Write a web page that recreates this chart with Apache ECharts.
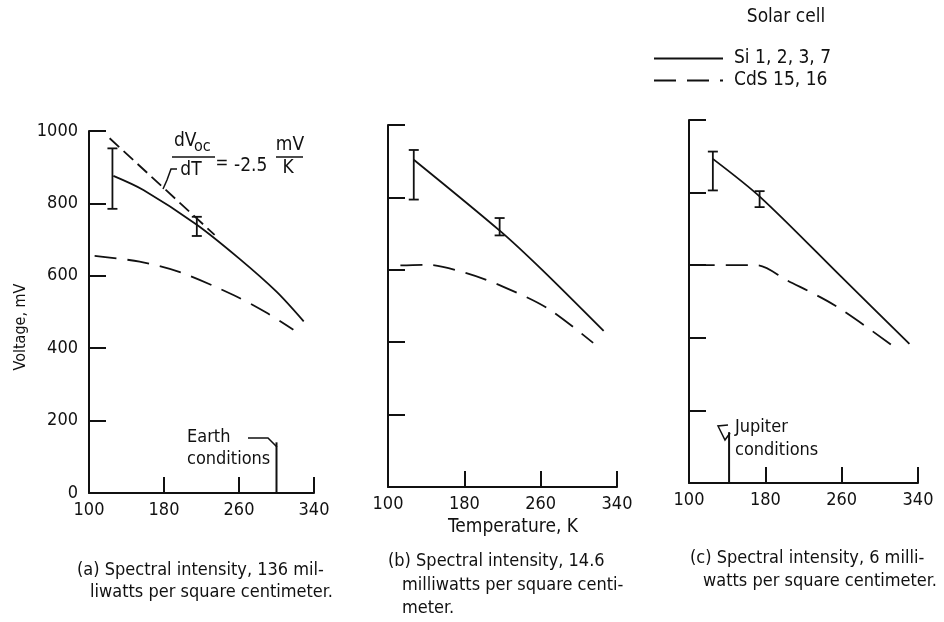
<!DOCTYPE html>
<html>
<head>
<meta charset="utf-8">
<script src="https://cdn.jsdelivr.net/npm/echarts@6/dist/echarts.min.js"></script>
<style>
  html, body { margin: 0; background: #fff; }
  #main { width: 944px; height: 622px; }
</style>
</head>
<body>
<div id="main"></div>
<script>
// values, [temperature K, voltage mV]
// (a) 136 mW/cm2
const siA = [[126, 876], [158, 837], [215, 741], [260, 648], [300, 556], [329, 474]]
const cdsA = [[106, 655], [154, 639], [197, 610], [254, 547], [290, 497], [318, 451]]
const errA = [[125, 785, 952], [215, 710, 763]] // [T, low, high]
const slopeA = [[122, 980], [234, 713]]
const earthLine = [[300, 0], [300, 140]]
// (b) 14.6 mW/cm2
const siB = [[127, 904], [218, 706], [261, 601], [326, 431]]
const cdsB = [[113, 612], [141, 614], [183, 590], [221, 553], [267, 494], [315, 398]]
const errB = [[127, 794, 931], [217, 695, 743]]
// (c) 6 mW/cm2
const siC = [[125, 893], [175, 787], [260, 567], [331, 383]]
const cdsC = [[104, 600], [171, 600], [203, 558], [253, 489], [315, 375]]
const errC = [[125, 806, 913], [174, 760, 804]]
const jupiterLine = [[142, 0], [142, 140]]

const xTicks = [100, 180, 260, 340]
const yTicks = [0, 200, 400, 600, 800, 1000]
const siName = 'Si 1, 2, 3, 7'
const cdsName = 'CdS 15, 16'

const ink = '#111'
const numFont = '"DejaVu Sans Condensed", "DejaVu Sans", sans-serif'
const txtFont = '"DejaVu Sans Condensed", "DejaVu Sans", sans-serif'

const grids = [
  { left: 89, top: 131, width: 225, height: 362 },
  { left: 388, top: 125, width: 229, height: 362 },
  { left: 689, top: 120, width: 229, height: 363 },
]

function xAx(i) {
  return {
    gridIndex: i, type: 'value',
    min: xTicks[0], max: xTicks[xTicks.length - 1], interval: xTicks[1] - xTicks[0],
    axisLine: { lineStyle: { color: ink, width: 2 } },
    axisTick: { inside: true, length: 16, lineStyle: { color: ink, width: 2 } },
    axisLabel: { color: ink, fontSize: 18, fontFamily: numFont, margin: 8, formatter: v => String(v) },
    splitLine: { show: false },
  }
}
function yAx(i) {
  return {
    gridIndex: i, type: 'value',
    min: yTicks[0], max: yTicks[yTicks.length - 1], interval: yTicks[1] - yTicks[0],
    axisLine: { show: true, lineStyle: { color: ink, width: 2 } },
    axisTick: { show: true, inside: true, length: 17, lineStyle: { color: ink, width: 2 } },
    axisLabel: { show: i === 0, color: ink, fontSize: 18, fontFamily: numFont, margin: 11, formatter: v => String(v) },
    splitLine: { show: false },
  }
}

// I-shaped error bar
function errRender(params, api) {
  const t = api.value(0)
  const top = api.coord([t, api.value(2)])
  const bot = api.coord([t, api.value(1)])
  const w = 5
  const st = { stroke: ink, lineWidth: 1.8 }
  return {
    type: 'group',
    children: [
      { type: 'line', shape: { x1: top[0], y1: top[1], x2: bot[0], y2: bot[1] }, style: st },
      { type: 'line', shape: { x1: top[0] - w, y1: top[1], x2: top[0] + w, y2: top[1] }, style: st },
      { type: 'line', shape: { x1: bot[0] - w, y1: bot[1], x2: bot[0] + w, y2: bot[1] }, style: st },
    ],
  }
}

function curve(name, data, i, dash) {
  return {
    name: name, type: 'line', xAxisIndex: i, yAxisIndex: i,
    data: data, symbol: 'none', smooth: 0.3,
    lineStyle: { color: ink, width: 1.8, type: dash || 'solid' },
    itemStyle: { color: ink },
  }
}
function plain(data, i, dash, width) {
  return {
    type: 'line', xAxisIndex: i, yAxisIndex: i, data: data, symbol: 'none',
    lineStyle: { color: ink, width: width || 1.8, type: dash || 'solid' },
    silent: true,
  }
}
function errs(data, i) {
  return {
    type: 'custom', xAxisIndex: i, yAxisIndex: i, data: data,
    encode: { x: 0, y: [1, 2] }, renderItem: errRender, silent: true,
  }
}

function txt(s, x, y, size, align, more) {
  return Object.assign({
    type: 'text', x: x, y: y,
    style: {
      text: s, fill: ink, font: size + 'px ' + txtFont,
      textAlign: align || 'left', textVerticalAlign: 'middle',
    },
  }, more || {})
}
function poly(points, w) {
  return { type: 'polyline', shape: { points: points }, style: { stroke: ink, lineWidth: w || 1.5, fill: null } }
}

const cdsDash = [22, 11]

const option = {
  backgroundColor: '#fff',
  animation: false,
  grid: grids,
  xAxis: [xAx(0), xAx(1), xAx(2)],
  yAxis: [yAx(0), yAx(1), yAx(2)],
  legend: {
    data: [siName, cdsName],
    orient: 'vertical', left: 653, top: 49, padding: 0,
    itemWidth: 69, itemHeight: 14, itemGap: 3,
    itemStyle: { opacity: 0 },
    textStyle: { color: ink, fontSize: 19, fontFamily: txtFont, padding: [0, 0, 0, 6] },
  },
  series: [
    curve(siName, siA, 0),
    curve(cdsName, cdsA, 0, cdsDash),
    errs(errA, 0),
    plain(slopeA, 0, [13, 6]),
    plain(earthLine, 0, 'solid', 2),
    curve(siName, siB, 1),
    curve(cdsName, cdsB, 1, cdsDash),
    errs(errB, 1),
    curve(siName, siC, 2),
    curve(cdsName, cdsC, 2, cdsDash),
    errs(errC, 2),
    plain(jupiterLine, 2, 'solid', 2),
  ],
  graphic: [
    txt('Solar cell', 786, 17, 19, 'center'),
    txt('Voltage, mV', 21, 327, 16, 'center', { rotation: Math.PI / 2 }),
    txt('Temperature, K', 513, 527, 19, 'center'),
    // slope annotation
    txt('dV', 174, 141, 19),
    txt('oc', 194, 147, 16),
    poly([[172, 157], [215, 157]], 1.5),
    txt('dT', 191, 170, 19, 'center'),
    txt('=', 222, 164, 17, 'center'),
    txt('-2.5', 234, 166, 19),
    txt('mV', 290, 145, 19, 'center'),
    poly([[276, 157], [303, 157]], 1.5),
    txt('K', 288, 168, 19, 'center'),
    poly([[177, 169], [171, 169], [167, 180], [163, 189]], 1.5),
    // earth / jupiter notes
    txt('Earth', 187, 437, 18),
    txt('conditions', 187, 459, 18),
    poly([[248, 438], [268, 438], [277, 447]], 1.5),
    txt('Jupiter', 735, 427, 18),
    txt('conditions', 735, 450, 18),
    poly([[728, 425], [718, 426], [725, 440], [730, 433]], 1.5),
    // captions
    txt('(a) Spectral intensity, 136 mil-', 77, 570, 18),
    txt('liwatts per square centimeter.', 90, 592, 18),
    txt('(b) Spectral intensity, 14.6', 388, 561, 18),
    txt('milliwatts per square centi-', 402, 585, 18),
    txt('meter.', 402, 608, 18),
    txt('(c) Spectral intensity, 6 milli-', 690, 558, 18),
    txt('watts per square centimeter.', 703, 581, 18),
  ],
}

const chart = echarts.init(document.getElementById('main'))
chart.setOption(option)
</script>
</body>
</html>
